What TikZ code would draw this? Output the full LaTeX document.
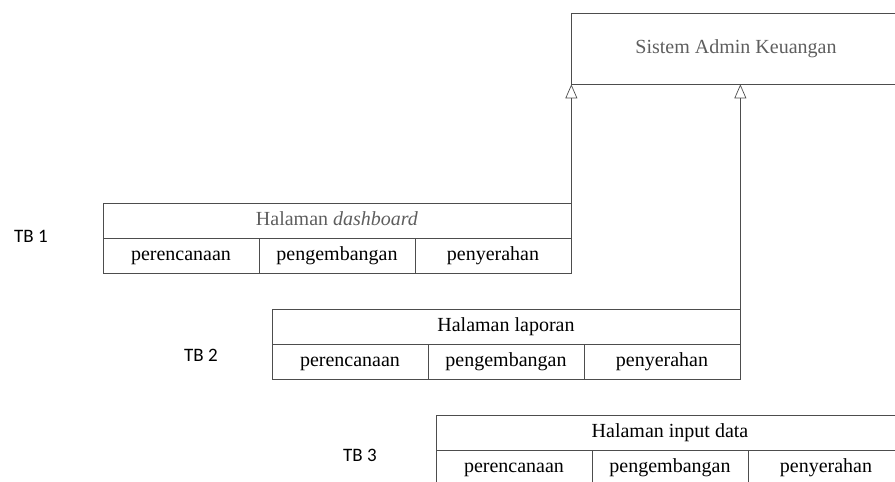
\documentclass[tikz,border=0pt]{standalone}
\usepackage{fontspec}
\setmainfont{Liberation Serif}
\setsansfont{Carlito}
\usetikzlibrary{arrows.meta, positioning}

\definecolor{linegray}{HTML}{4D4D4D}
\definecolor{txtgray}{HTML}{5E5E5E}

\begin{document}
\begin{tikzpicture}[
    x=1pt, y=-1pt, line width=0.7pt,
    hdr/.style={draw=linegray, minimum width=468pt, minimum height=35pt,
                inner sep=0pt, text height=13pt, text depth=4pt,
                font=\fontsize{20}{24}\selectfont},
    cell/.style={draw=linegray, minimum width=156pt, minimum height=35pt,
                 inner sep=0pt, text height=13pt, text depth=4pt,
                 font=\fontsize{20}{24}\selectfont},
    tb/.style={font=\sffamily\fontsize{19}{22}\selectfont},
    inherit/.style={draw=linegray, -{Triangle[open, length=14pt, width=12pt]}},
  ]
  \useasboundingbox (0,0) rectangle (895,482);

  \node[draw=linegray, minimum width=330pt, minimum height=71pt, text=txtgray,
        text height=13pt, text depth=4pt,
        font=\fontsize{20}{24}\selectfont] (sys) at (736, 48.5)
    {Sistem Admin Keuangan};

  % TB 1
  \node[hdr, text=txtgray] (dash) at (337, 220.5) {Halaman \textit{dashboard}};
  \foreach \c [count=\i] in {perencanaan, pengembangan, penyerahan}
    \node[cell] (dash\i) at (25+156*\i, 255.5) {\c};
  \node[tb] (tb1) at (31, 236) {TB 1};

  % TB 2
  \node[hdr] (lap) at (506, 326.5) {Halaman laporan};
  \foreach \c [count=\i] in {perencanaan, pengembangan, penyerahan}
    \node[cell] (lap\i) at (194+156*\i, 361.5) {\c};
  \node[tb] (tb2) at (201, 355) {TB 2};

  % TB 3
  \node[hdr] (inp) at (670, 432.5) {Halaman input data};
  \foreach \c [count=\i] in {perencanaan, pengembangan, penyerahan}
    \node[cell] (inp\i) at (358+156*\i, 467.5) {\c};
  \node[tb] (tb3) at (360, 455) {TB 3};

  \draw[inherit] (dash.north east) -- (dash.north east |- sys.south);
  \draw[inherit] (lap.east) -- (lap.east |- sys.south);
\end{tikzpicture}
\end{document}
